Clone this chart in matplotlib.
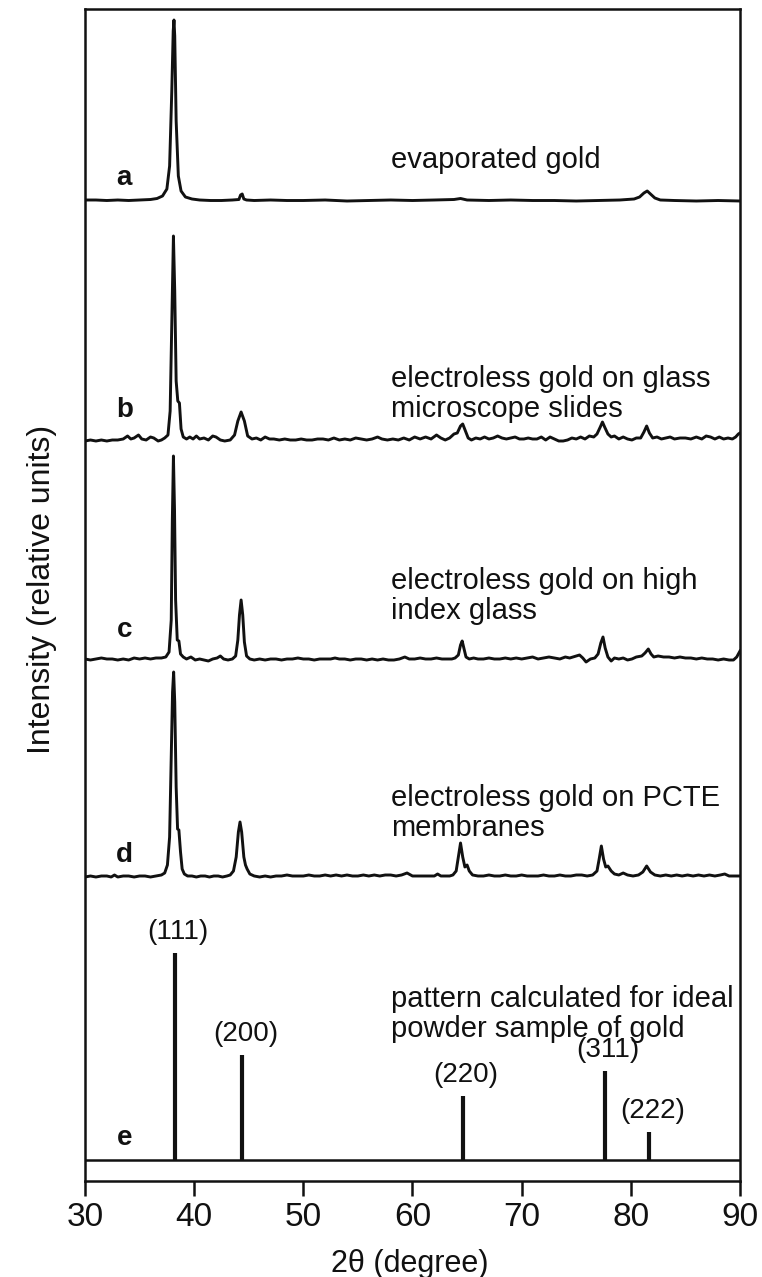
import matplotlib
matplotlib.use("Agg")
import matplotlib.pyplot as plt

plt.rcParams['font.family'] = ['Liberation Sans', 'DejaVu Sans']

# --- XRD traces: 2-theta (degree) and intensity (arbitrary counts) ---
a_theta = [30.0, 31.0, 32.0, 33.0, 34.0, 35.0, 36.0, 36.6, 37.1, 37.5,
           37.75, 37.95, 38.08, 38.15, 38.22, 38.35, 38.55, 38.8, 39.2, 39.8,
           40.5, 41.5, 42.5, 43.5, 44.1, 44.25, 44.4, 44.55, 44.8, 45.5,
           47.0, 48.5, 50.0, 52.0, 54.0, 56.0, 58.0, 60.0, 62.0, 63.8,
           64.4, 65.0, 67.0, 69.0, 71.0, 73.0, 75.0, 77.0, 79.0, 80.3,
           80.8, 81.2, 81.5, 81.8, 82.2, 82.7, 84.0, 86.0, 88.0, 90.0]
a_counts = [1, 1, 0.5, 1, 0.5, 1, 1.5, 2.5, 5, 12,
            35, 110, 170, 181, 165, 80, 25, 10, 4, 2,
            1, 0.5, 0.5, 1, 1.5, 6, 7, 2, 1, 0.5,
            1, 0.5, 0.5, 1, 0, 0.5, 1, 0.5, 1, 1.5,
            2.5, 1, 0.5, 1, 0.5, 0.5, 0, 0.5, 1, 2,
            4, 8, 10, 7, 3, 1, 0.5, 0, 0.5, 0]

b_theta = [30.0, 30.5, 31.0, 31.5, 32.0, 32.5, 33.0, 33.5, 33.9, 34.2,
           34.5, 34.9, 35.2, 35.6, 36.0, 36.3, 36.7, 37.0, 37.3, 37.6,
           37.8, 37.95, 38.1, 38.22, 38.35, 38.5, 38.65, 38.8, 39.0, 39.3,
           39.6, 39.9, 40.2, 40.5, 40.9, 41.3, 41.7, 42.0, 42.4, 42.8,
           43.3, 43.7, 44.0, 44.3, 44.6, 44.9, 45.3, 45.7, 46.1, 46.5,
           46.9, 47.3, 47.8, 48.3, 48.8, 49.3, 49.8, 50.3, 50.8, 51.3,
           51.8, 52.3, 52.8, 53.3, 53.8, 54.3, 54.8, 55.3, 55.8, 56.3,
           56.8, 57.2, 57.7, 58.2, 58.7, 59.2, 59.7, 60.2, 60.7, 61.2,
           61.7, 62.2, 62.6, 63.0, 63.4, 63.8, 64.1, 64.4, 64.6, 64.85,
           65.1, 65.4, 65.8, 66.2, 66.6, 67.0, 67.4, 67.8, 68.2, 68.6,
           69.0, 69.4, 69.8, 70.2, 70.6, 71.0, 71.4, 71.8, 72.2, 72.6,
           73.0, 73.4, 73.8, 74.2, 74.6, 75.0, 75.4, 75.8, 76.2, 76.6,
           76.9, 77.2, 77.4, 77.6, 77.9, 78.2, 78.5, 78.9, 79.3, 79.7,
           80.1, 80.5, 80.9, 81.2, 81.45, 81.7, 82.0, 82.4, 82.8, 83.2,
           83.6, 84.0, 84.5, 85.0, 85.5, 86.0, 86.5, 86.9, 87.3, 87.7,
           88.1, 88.5, 88.9, 89.3, 89.6, 89.85, 90.0]
b_counts = [0, 1, 0, 1, 0, 1, 1, 2, 5, 2,
            3, 6, 2, 1, 4, 3, 0, 1, 3, 6,
            30, 120, 205, 150, 60, 40, 38, 12, 4, 2,
            4, 2, 5, 2, 3, 1, 5, 4, 1, 0,
            1, 6, 20, 29, 20, 5, 2, 3, 1, 4,
            2, 2, 1, 2, 1, 1, 2, 1, 1, 2,
            2, 1, 3, 1, 2, 1, 3, 2, 1, 2,
            4, 2, 1, 2, 1, 3, 1, 4, 2, 4,
            2, 6, 3, 1, 3, 7, 8, 15, 17, 10,
            3, 1, 3, 2, 4, 2, 3, 5, 3, 2,
            3, 4, 2, 2, 3, 2, 2, 4, 1, 4,
            2, 0, 0, 1, 3, 2, 4, 2, 5, 4,
            7, 14, 19, 14, 7, 4, 5, 2, 4, 2,
            1, 3, 3, 9, 15, 8, 3, 4, 2, 3,
            4, 2, 3, 3, 2, 4, 2, 5, 4, 2,
            4, 2, 3, 2, 4, 7, 8]

c_theta = [30.0, 30.5, 31.0, 31.5, 32.0, 32.5, 33.0, 33.5, 34.0, 34.5,
           35.0, 35.5, 36.0, 36.5, 37.0, 37.4, 37.7, 37.9, 38.0, 38.1,
           38.2, 38.3, 38.45, 38.6, 38.75, 39.0, 39.3, 39.7, 40.1, 40.5,
           40.9, 41.3, 41.7, 42.1, 42.4, 42.7, 43.1, 43.5, 43.8, 44.0,
           44.15, 44.3, 44.45, 44.6, 44.8, 45.1, 45.5, 46.0, 46.5, 47.0,
           47.5, 48.0, 48.5, 49.0, 49.5, 50.0, 50.5, 51.0, 51.5, 52.0,
           52.5, 52.9, 53.3, 53.8, 54.3, 54.8, 55.3, 55.8, 56.3, 56.8,
           57.3, 57.8, 58.3, 58.8, 59.3, 59.7, 60.2, 60.7, 61.2, 61.7,
           62.2, 62.7, 63.2, 63.6, 63.9, 64.2, 64.4, 64.55, 64.7, 64.9,
           65.2, 65.6, 66.0, 66.5, 67.0, 67.5, 68.0, 68.5, 69.0, 69.5,
           70.0, 70.5, 71.0, 71.5, 72.0, 72.5, 73.0, 73.5, 74.0, 74.4,
           74.7, 75.0, 75.3, 75.6, 75.9, 76.3, 76.7, 77.0, 77.25, 77.45,
           77.65, 77.9, 78.2, 78.5, 78.9, 79.3, 79.7, 80.1, 80.5, 81.0,
           81.3, 81.6, 81.85, 82.1, 82.5, 83.0, 83.5, 84.0, 84.5, 85.0,
           85.5, 86.0, 86.5, 87.0, 87.5, 88.0, 88.5, 89.0, 89.4, 89.7, 90.0]
c_counts = [1, 0, 1, 2, 1, 1, 0, 1, 0, 2,
            1, 2, 1, 2, 2, 3, 8, 40, 140, 204,
            150, 60, 20, 19, 6, 3, 1, 3, 0, 1,
            0, -1, 1, 2, 4, 1, 0, 1, 4, 20,
            45, 60, 45, 18, 4, 1, 0, 1, 0, 1,
            1, 0, 1, 1, 2, 1, 1, 0, 1, 1,
            1, 2, 1, 1, 0, 1, 1, 0, 1, 0,
            1, 0, 0, 1, 3, 1, 1, 2, 1, 1,
            2, 1, 1, 1, 2, 5, 15, 19, 12, 3,
            1, 2, 1, 1, 2, 1, 1, 2, 1, 2,
            1, 2, 3, 1, 2, 3, 2, 1, 3, 2,
            3, 4, 5, 2, -2, 1, 2, 6, 17, 23,
            12, 3, -1, 2, 1, 2, 0, 1, 3, 4,
            7, 11, 6, 3, 4, 3, 3, 2, 3, 2,
            2, 1, 2, 1, 1, 0, 1, 0, 0, 3, 9]

d_theta = [30.0, 30.5, 31.0, 31.5, 32.0, 32.4, 32.7, 33.0, 33.5, 34.0,
           34.5, 35.0, 35.5, 36.0, 36.5, 37.0, 37.3, 37.55, 37.75, 37.9,
           38.02, 38.12, 38.22, 38.35, 38.48, 38.6, 38.75, 38.9, 39.1, 39.4,
           39.8, 40.2, 40.6, 41.0, 41.4, 41.8, 42.2, 42.6, 43.0, 43.3,
           43.6, 43.85, 44.05, 44.2, 44.35, 44.55, 44.7, 44.85, 45.1, 45.5,
           46.0, 46.5, 47.0, 47.5, 48.0, 48.5, 49.0, 49.5, 50.0, 50.5,
           51.0, 51.5, 52.0, 52.5, 53.0, 53.5, 54.0, 54.5, 55.0, 55.5,
           56.0, 56.5, 57.0, 57.5, 58.0, 58.5, 59.0, 59.5, 60.0, 60.5,
           61.0, 61.5, 62.0, 62.3, 62.6, 63.0, 63.4, 63.7, 64.0, 64.2,
           64.4, 64.6, 64.8, 65.0, 65.2, 65.5, 66.0, 66.5, 67.0, 67.5,
           68.0, 68.5, 69.0, 69.5, 70.0, 70.5, 71.0, 71.5, 72.0, 72.5,
           73.0, 73.5, 74.0, 74.5, 75.0, 75.5, 76.0, 76.5, 76.9, 77.1,
           77.3, 77.5, 77.7, 77.9, 78.2, 78.5, 78.9, 79.3, 79.7, 80.2,
           80.7, 81.1, 81.45, 81.8, 82.2, 82.7, 83.2, 83.7, 84.2, 84.7,
           85.2, 85.7, 86.2, 86.7, 87.2, 87.7, 88.2, 88.6, 89.0, 89.5, 90.0]
d_counts = [0, 1, 0, 1, 1, 0, 2, 0, 1, 1,
            0, 1, 1, 0, 1, 2, 4, 12, 40, 120,
            185, 205, 175, 90, 48, 47, 25, 8, 3, 1,
            1, 0, 1, 1, 0, 1, 1, 0, 1, 2,
            6, 20, 45, 55, 45, 20, 12, 8, 3, 1,
            0, 1, 0, 1, 1, 2, 1, 1, 1, 2,
            1, 1, 2, 1, 2, 1, 2, 1, 1, 2,
            1, 2, 1, 2, 2, 1, 2, 4, 1, 1,
            1, 1, 1, 3, 1, 1, 1, 2, 6, 20,
            34, 20, 10, 12, 6, 2, 1, 1, 2, 1,
            1, 2, 1, 1, 2, 1, 1, 1, 2, 1,
            1, 2, 1, 1, 2, 2, 1, 2, 6, 18,
            31, 18, 10, 11, 6, 3, 2, 4, 2, 1,
            2, 5, 11, 5, 2, 1, 2, 1, 2, 1,
            2, 1, 2, 1, 2, 1, 2, 3, 1, 1, 1]

# calculated powder pattern for gold
hkl_labels = ['(111)', '(200)', '(220)', '(311)', '(222)']
e_theta = [38.2, 44.4, 64.6, 77.6, 81.7]
e_counts = [207, 105, 64, 89, 28]

panel_letters = ['a', 'b', 'c', 'd', 'e']
descriptions = ['evaporated gold',
                'electroless gold on glass\nmicroscope slides',
                'electroless gold on high\nindex glass',
                'electroless gold on PCTE\nmembranes',
                'pattern calculated for ideal\npowder sample of gold']

# vertical stacking of the patterns
offsets = [980, 740, 521, 304, 21]
letter_y = [23, 31, 30, 22, 22]
desc_y = [41, 47, 64, 64, 146]

ink = '#111111'
fig = plt.figure(figsize=(7.62, 12.77), dpi=100)
ax = fig.add_axes([85 / 762, 96 / 1277, 655 / 762, 1172 / 1277])

traces = [(a_theta, a_counts), (b_theta, b_counts),
          (c_theta, c_counts), (d_theta, d_counts)]
for (tt, cc), off in zip(traces, offsets[:4]):
    ax.plot(tt, [v + off for v in cc], color=ink, lw=2.1,
            solid_joinstyle='round')

# stick pattern with its own baseline
ax.axhline(offsets[4], color=ink, lw=1.8)
ax.vlines(e_theta, offsets[4], [v + offsets[4] for v in e_counts],
          color=ink, lw=3.0)
for x, h, lab in zip(e_theta, e_counts, hkl_labels):
    ax.text(x + 0.3, offsets[4] + h + 8, lab, ha='center', va='bottom',
            fontsize=20, color=ink)

for off, ly, dy, letter, desc in zip(offsets, letter_y, desc_y,
                                      panel_letters, descriptions):
    ax.text(33.6, off + ly, letter, ha='center', va='center',
            fontsize=20, fontweight='bold', color=ink)
    ax.text(58.0, off + dy, desc, ha='left', va='center',
            fontsize=21, color=ink, linespacing=1.05)

ax.set_xlim(30, 90)
ax.set_ylim(0, 1172)
ax.set_yticks([])
ax.set_xticks([30, 40, 50, 60, 70, 80, 90])
ax.tick_params(axis='x', direction='out', length=11, width=1.8,
               labelsize=24, pad=4, colors=ink)
for s in ax.spines.values():
    s.set_linewidth(1.8)
    s.set_color(ink)

ax.set_xlabel('2θ (degree)', fontsize=22, color=ink, va='center')
ax.xaxis.set_label_coords(0.496, -0.071)
ax.set_ylabel('Intensity (relative units)', fontsize=23, color=ink,
              va='center')
ax.yaxis.set_label_coords(-0.066, 0.505)

fig.savefig('out.png', dpi=100, facecolor='white')
